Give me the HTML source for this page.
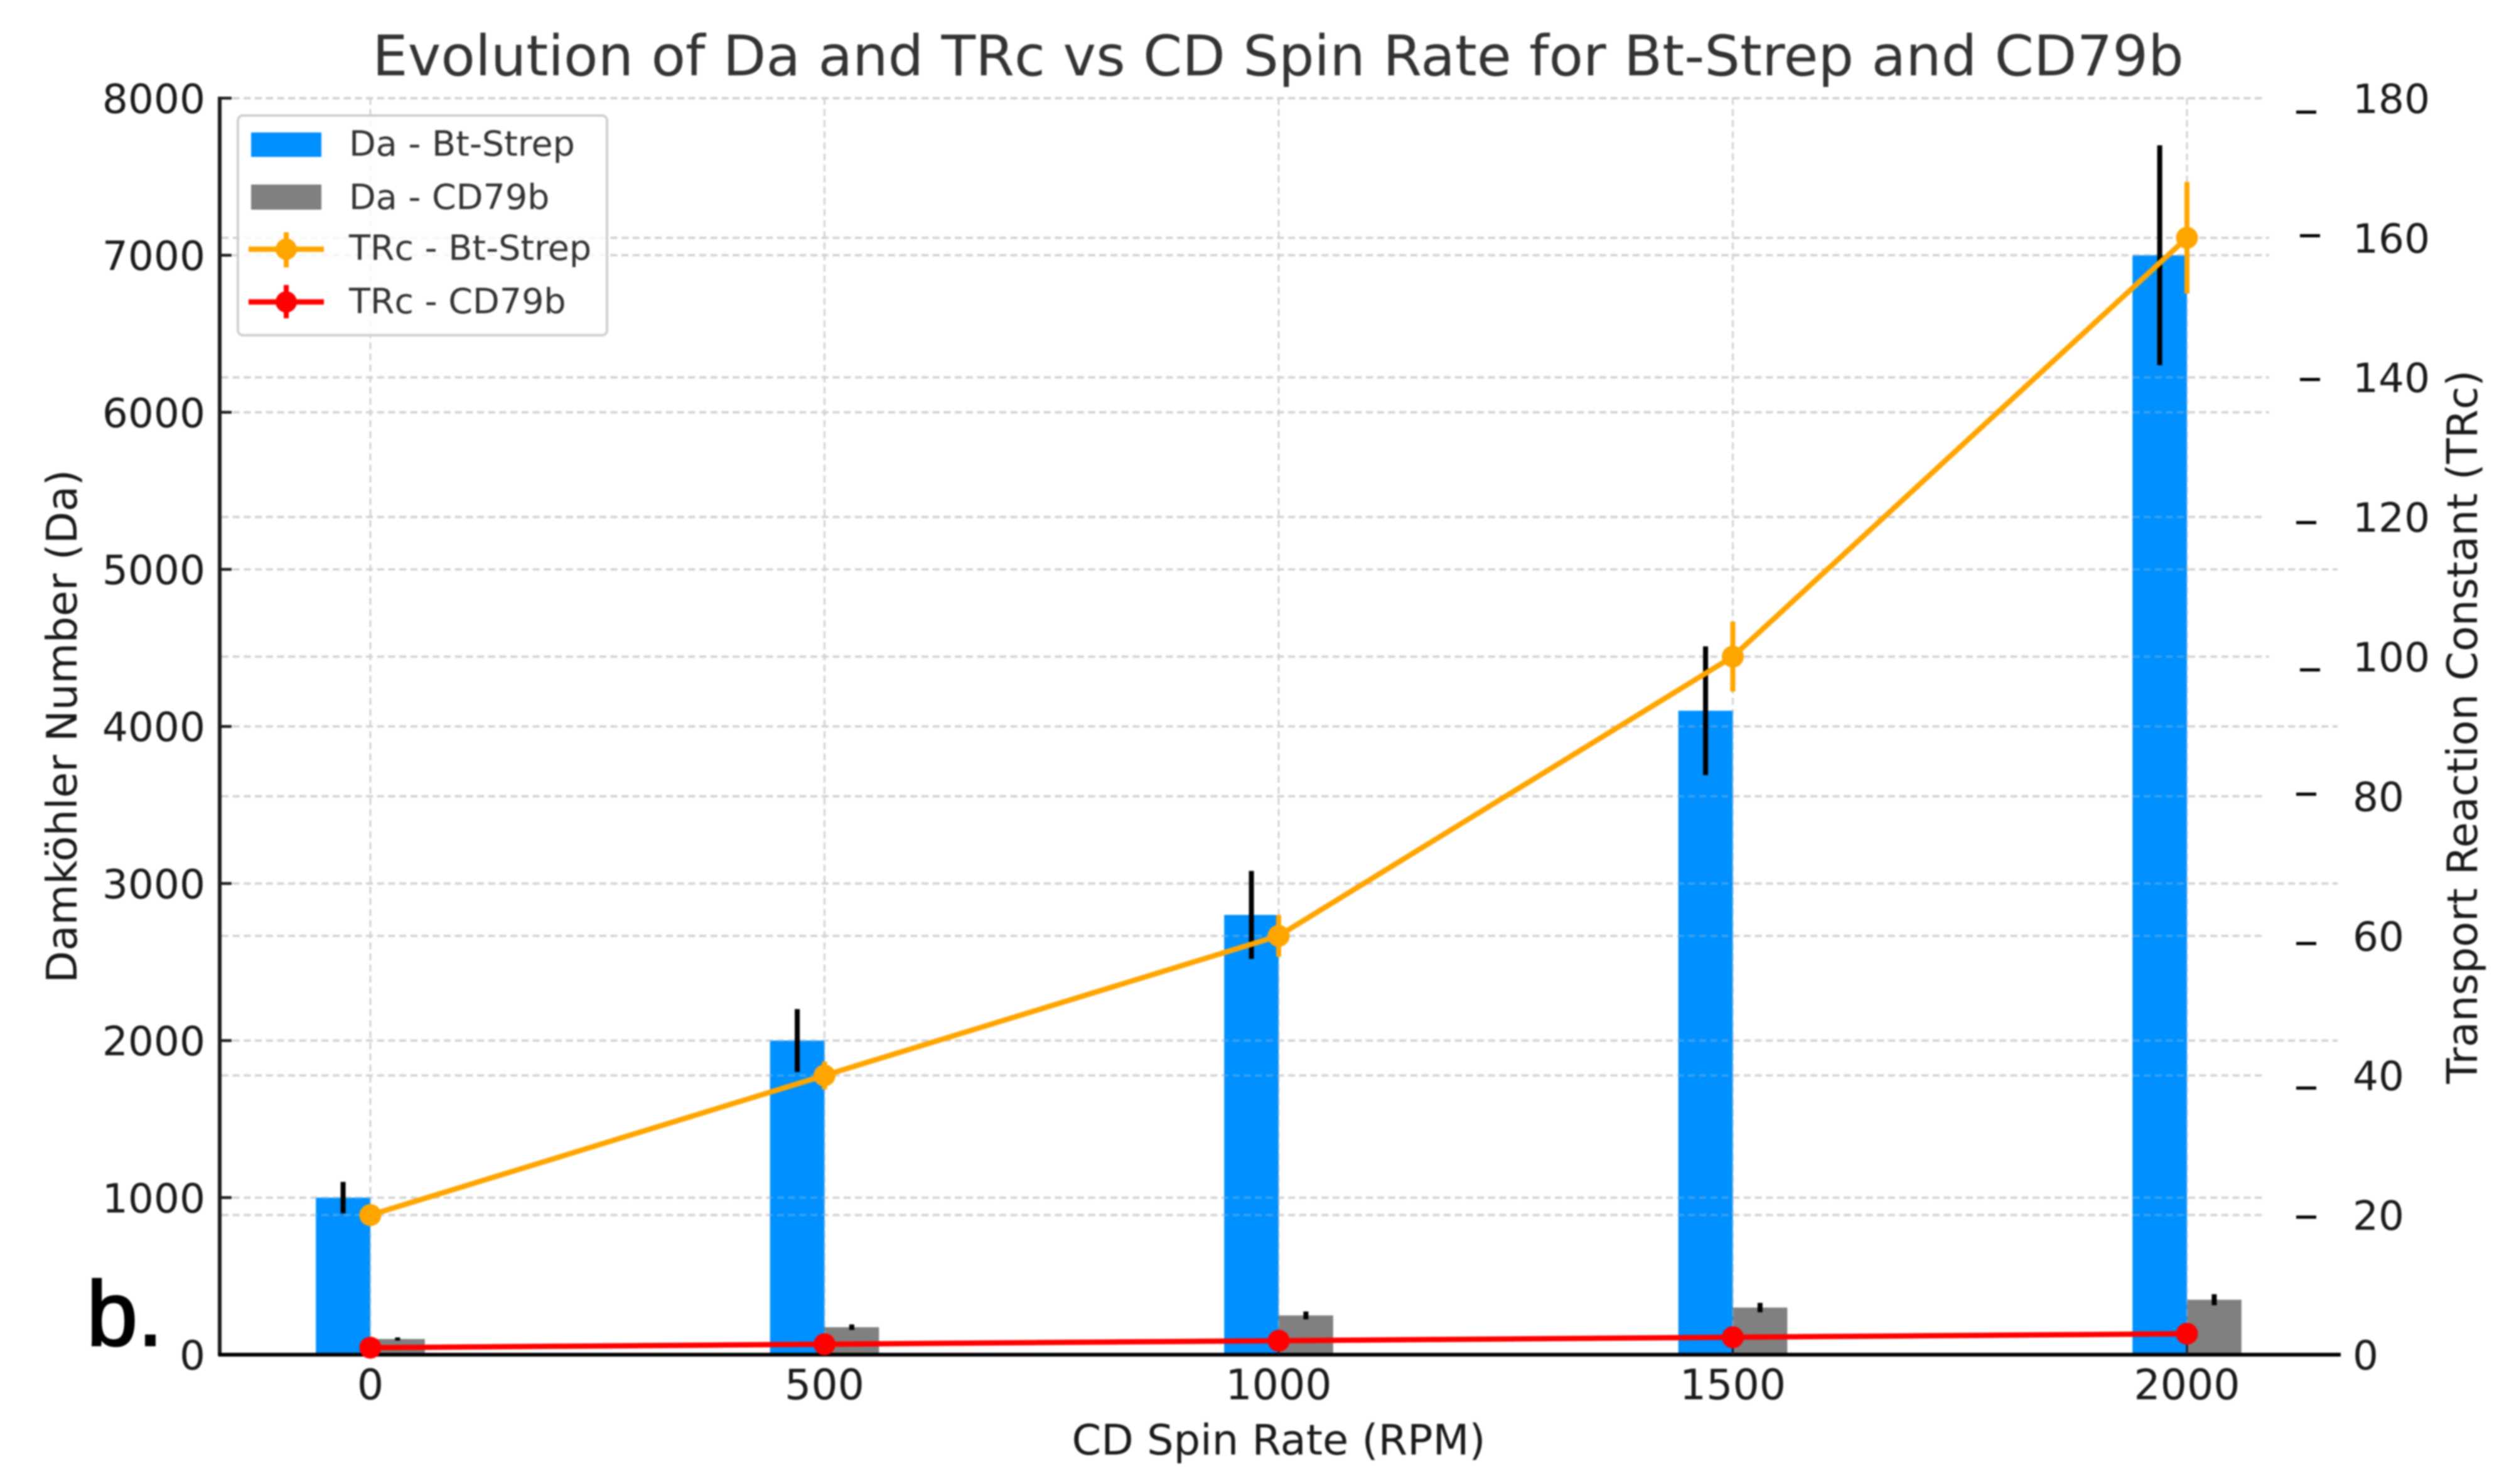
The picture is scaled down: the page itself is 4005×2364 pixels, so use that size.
<!DOCTYPE html>
<html lang="en">
<head>
<meta charset="utf-8">
<title>Evolution of Da and TRc vs CD Spin Rate</title>
<style>
html,body{margin:0;padding:0;background:#fff;width:4005px;height:2364px;overflow:hidden}
svg{display:block;filter:blur(1.2px)}
text{font-family:"DejaVu Sans","Liberation Sans",sans-serif}
</style>
</head>
<body>
<svg id="chart" xmlns="http://www.w3.org/2000/svg" width="4005" height="2364" viewBox="0 0 4005 2364">
  <rect x="0" y="0" width="4005" height="2364" fill="#ffffff"/>
  <g id="grid-under"></g>
  <g id="bars"></g>
  <g id="grid-over" opacity="0.28"></g>
  <g id="bar-errors"></g>
  <g id="axes"></g>
  <g id="lines"></g>

  <text x="2036" y="120" font-size="89.2" fill="#333333" text-anchor="middle">Evolution of Da and TRc vs CD Spin Rate for Bt-Strep and CD79b</text>
  <text x="2037" y="2317" font-size="67" fill="#1a1a1a" text-anchor="middle">CD Spin Rate (RPM)</text>
  <text transform="translate(122 1157) rotate(-90)" font-size="66.7" fill="#1a1a1a" text-anchor="middle">Damköhler Number (Da)</text>
  <text transform="translate(3946 1158) rotate(-90)" font-size="66.4" fill="#1a1a1a" text-anchor="middle">Transport Reaction Constant (TRc)</text>
  <text x="138" y="2143" font-size="146" fill="#000000" stroke="#000000" stroke-width="3" style="font-family:'Liberation Sans',sans-serif">b.</text>

  <g>
    <rect x="379" y="184" width="588" height="350" rx="8" ry="8" fill="#ffffff" fill-opacity="0.8" stroke="#cfcfcf" stroke-width="4"/>
    <g>
      <rect x="400" y="211" width="112" height="39" fill="#0090ff"/>
      <text x="556" y="248" font-size="55.5" fill="#333333">Da - Bt-Strep</text>
    </g>
    <g>
      <rect x="400" y="294" width="112" height="40" fill="#808080"/>
      <text x="556" y="333" font-size="55.5" fill="#333333">Da - CD79b</text>
    </g>
    <g>
      <line x1="396" x2="516" y1="397" y2="397" stroke="#ffa500" stroke-width="8.5"/>
      <line x1="456" x2="456" y1="370" y2="426" stroke="#ffa500" stroke-width="8"/>
      <circle cx="456" cy="397" r="17" fill="#ffa500"/>
      <text x="556" y="414" font-size="55.5" fill="#333333">TRc - Bt-Strep</text>
    </g>
    <g>
      <line x1="396" x2="516" y1="481" y2="481" stroke="#ff0000" stroke-width="8.5"/>
      <line x1="456" x2="456" y1="454" y2="507" stroke="#ff0000" stroke-width="8"/>
      <circle cx="456" cy="481" r="17" fill="#ff0000"/>
      <text x="556" y="499" font-size="55.5" fill="#333333">TRc - CD79b</text>
    </g>
  </g>
</svg>
<script>
// ---- chart data ----
const spinRates = [0, 500, 1000, 1500, 2000];
const daBtStrep = [1000, 2000, 2800, 4100, 7000];
const daBtStrepErr = [100, 200, 280, 410, 700];
const daCd79b = [100, 175, 250, 300, 350];
const daCd79bErr = [10, 17.5, 25, 30, 35];
const trcBtStrep = [20, 40, 60, 100, 160];
const trcBtStrepErr = [1, 2, 3, 5, 8];
const trcCd79b = [1, 1.5, 2, 2.5, 3];
const trcCd79bErr = [0.05, 0.075, 0.1, 0.125, 0.15];
const xTickLabels = ['0', '500', '1000', '1500', '2000'];
const daTicks = [0, 1000, 2000, 3000, 4000, 5000, 6000, 7000, 8000];
const trcTicks = [0, 20, 40, 60, 80, 100, 120, 140, 160, 180];
// right-axis tick marks sit slightly off their labels in the picture (read in TRc units)
const trcTickMarks = [19.7, 38.2, 58.9, 80.3, 98.1, 119.2, 139.7, 160.3, 178];
const daBarWidthRpm = 60;

// ---- axis functions ----
const baseY = 2158;
function xPos(rpm) { return 590 + rpm * 1.447; }
function yDa(v) { return baseY - v * 0.2502; }
function yTrc(v) { return baseY - v * 11.12; }

const NS = 'http://www.w3.org/2000/svg';
function mk(tag, attrs, parent) {
  const el = document.createElementNS(NS, tag);
  for (const k in attrs) el.setAttribute(k, attrs[k]);
  parent.appendChild(el);
  return el;
}
const gridUnder = document.getElementById('grid-under');
const gridOver = document.getElementById('grid-over');
const barsG = document.getElementById('bars');
const barErrG = document.getElementById('bar-errors');
const axesG = document.getElementById('axes');
const linesG = document.getElementById('lines');

// ---- gridlines ----
function daGridEnd(v) {
  if (v >= 2000 && v <= 5000) return 3724;
  if (v === 6000 || v === 7000) return 3615;
  return 3608;
}
function trcGridEnd(v) {
  if (v === 100 || v === 140 || v === 160) return 3615;
  return 3608;
}
function drawGrid(parent) {
  const gridStyle = { stroke: '#d2d2d2', 'stroke-width': 3.6, 'stroke-dasharray': '11 6.7', fill: 'none' };
  daTicks.slice(1).forEach(function (v) {
    const ln = mk('line', Object.assign({ x1: 353, x2: daGridEnd(v), y1: yDa(v), y2: yDa(v) }, gridStyle), parent);
    
    
  });
  trcTicks.slice(1).forEach(function (v) {
    const ln = mk('line', Object.assign({ x1: 353, x2: trcGridEnd(v), y1: yTrc(v), y2: yTrc(v) }, gridStyle), parent);
    
    
  });
  spinRates.forEach(function (r) {
    const ln = mk('line', Object.assign({ x1: xPos(r), x2: xPos(r), y1: 156, y2: baseY }, gridStyle, { 'stroke-width': 3 }), parent);
    
    
  });
}
drawGrid(gridUnder);
drawGrid(gridOver);

// ---- bars and bar error bars ----
const barW = xPos(daBarWidthRpm) - xPos(0);
spinRates.forEach(function (r, i) {
  const cx = xPos(r);
  const b1 = mk('rect', { x: cx - barW, y: yDa(daBtStrep[i]), width: barW, height: baseY - yDa(daBtStrep[i]), fill: '#0090ff' }, barsG);
  
  
  const b2 = mk('rect', { x: cx, y: yDa(daCd79b[i]), width: barW, height: baseY - yDa(daCd79b[i]), fill: '#808080' }, barsG);
  
  
  const e1 = mk('line', { x1: cx - barW / 2, x2: cx - barW / 2, y1: yDa(daBtStrep[i] + daBtStrepErr[i]), y2: yDa(daBtStrep[i] - daBtStrepErr[i]), stroke: '#000', 'stroke-width': 8 }, barErrG);
  
  
  const e2 = mk('line', { x1: cx + barW / 2, x2: cx + barW / 2, y1: yDa(daCd79b[i] + daCd79bErr[i]), y2: yDa(daCd79b[i] - daCd79bErr[i]), stroke: '#000', 'stroke-width': 8 }, barErrG);
  
  
});

// ---- axes ----
const spineL = mk('line', { x1: 350, x2: 350, y1: 154, y2: baseY + 2, stroke: '#1c1c1c', 'stroke-width': 6 }, axesG);


const spineB = mk('line', { x1: 348, x2: 3729, y1: baseY, y2: baseY, stroke: '#000', 'stroke-width': 6 }, axesG);



daTicks.forEach(function (v) {
  if (v > 0) {
    const t = mk('line', { x1: 350, x2: 369, y1: yDa(v), y2: yDa(v), stroke: '#1c1c1c', 'stroke-width': 4.5 }, axesG);
    
    
  }
  const lb = mk('text', { x: 327, y: yDa(v) + 23.5, 'font-size': 64.5, fill: '#1a1a1a', 'text-anchor': 'end' }, axesG);
  
  
  lb.textContent = String(v);
});
trcTicks.forEach(function (v) {
  const lb = mk('text', { x: 3748, y: yTrc(v) + 23.5, 'font-size': 64.5, fill: '#1a1a1a' }, axesG);
  
  
  lb.textContent = String(v);
});
trcTickMarks.forEach(function (v, i) {
  const shifted = (i === 4) || (i === 6) || (i === 7);
  const x0 = shifted ? 3664 : 3658;
  const t = mk('line', { x1: x0, x2: x0 + 32, y1: yTrc(v), y2: yTrc(v), stroke: '#000', 'stroke-width': 5 }, axesG);
  
  
});
spinRates.forEach(function (r, i) {
  const lb = mk('text', { x: xPos(r), y: 2229, 'font-size': 66.5, fill: '#1a1a1a', 'text-anchor': 'middle' }, axesG);
  
  
  lb.textContent = xTickLabels[i];
  const t = mk('line', { x1: xPos(r), x2: xPos(r), y1: baseY - 16, y2: baseY, stroke: '#1c1c1c', 'stroke-width': 3 }, axesG);
  
  
});

// ---- TRc series ----
function ptsFor(values) {
  return spinRates.map(function (r, i) { return xPos(r) + ',' + yTrc(values[i]); }).join(' ');
}
const lineBt = mk('polyline', { points: ptsFor(trcBtStrep), fill: 'none', stroke: '#ffa500', 'stroke-width': 8.5, 'stroke-linejoin': 'round' }, linesG);


spinRates.forEach(function (r, i) {
  const e = mk('line', { x1: xPos(r), x2: xPos(r), y1: yTrc(trcBtStrep[i] + trcBtStrepErr[i]), y2: yTrc(trcBtStrep[i] - trcBtStrepErr[i]), stroke: '#ffa500', 'stroke-width': 8 }, linesG);
  
  
  const c = mk('circle', { cx: xPos(r), cy: yTrc(trcBtStrep[i]), r: 17.5, fill: '#ffa500' }, linesG);
  
  
});
const lineCd = mk('polyline', { points: ptsFor(trcCd79b), fill: 'none', stroke: '#ff0000', 'stroke-width': 8.5, 'stroke-linejoin': 'round' }, linesG);


spinRates.forEach(function (r, i) {
  const e = mk('line', { x1: xPos(r), x2: xPos(r), y1: yTrc(trcCd79b[i] + trcCd79bErr[i]), y2: yTrc(trcCd79b[i] - trcCd79bErr[i]), stroke: '#ff0000', 'stroke-width': 8 }, linesG);
  
  
  const c = mk('circle', { cx: xPos(r), cy: yTrc(trcCd79b[i]), r: 17.5, fill: '#ff0000' }, linesG);
  
  
});
</script>
</body>
</html>
